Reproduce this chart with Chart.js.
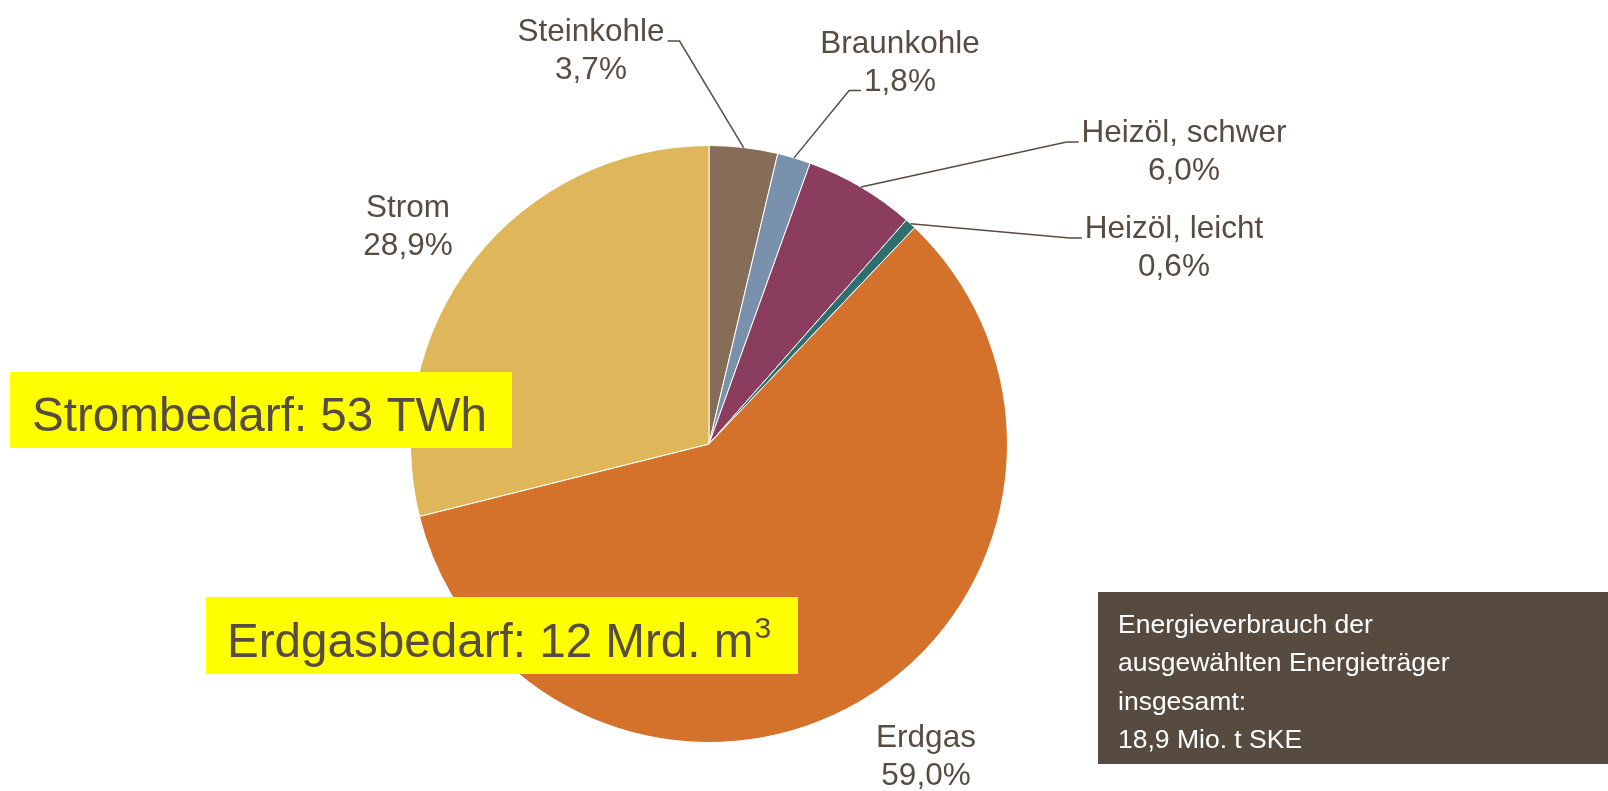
<!DOCTYPE html>
<html><head><meta charset="utf-8">
<script src="https://cdn.jsdelivr.net/npm/chart.js@4/dist/chart.umd.min.js"></script>
<style>html,body{margin:0;padding:0;background:#fff;}#wrap{width:1608px;height:791px;position:relative;}</style>
</head><body><div id="wrap"><canvas id="c" width="1608" height="791"></canvas></div>
<script>
const categories = ["Steinkohle", "Braunkohle", "Heizöl, schwer", "Heizöl, leicht", "Erdgas", "Strom"];
const shares = [3.7, 1.8, 6.0, 0.6, 59.0, 28.9];
const percentLabels = ["3,7%", "1,8%", "6,0%", "0,6%", "59,0%", "28,9%"];
const sliceColors = ["#866D57", "#7A91AD", "#8A3D5C", "#2F6E6E", "#D4712A", "#DFB75A"];
const boxLines = ["Energieverbrauch der", "ausgewählten Energieträger", "insgesamt:", "18,9 Mio. t SKE"];
const stromNote = "Strombedarf: 53 TWh";
const gasNote = "Erdgasbedarf: 12 Mrd. m";
const gasNoteSup = "3";

// label layout (text placement)
const labelPos = [
  {x: 591, y: 41, leader: {line: 0, side: 'right'}},
  {x: 900, y: 53, leader: {line: 1, side: 'left'}},
  {x: 1184, y: 142, leader: {line: 0, side: 'left'}},
  {x: 1174, y: 238, leader: {line: 0, side: 'left'}},
  {x: 926, y: 747, leader: null},
  {x: 408, y: 217, leader: null}
];
const TXT = "#574C42";
const FONT = "'Liberation Sans', Arial, sans-serif";

const overlay = {
  id: 'overlay',
  afterDatasetsDraw(chart) {
    const ctx = chart.ctx;
    const meta = chart.getDatasetMeta(0);
    ctx.save();
    ctx.font = "31.5px " + FONT;
    ctx.textAlign = 'center';
    ctx.textBaseline = 'alphabetic';
    const lh = 37.5;
    meta.data.forEach((arc, i) => {
      const p = labelPos[i];
      const lines = [categories[i], percentLabels[i]];
      ctx.fillStyle = TXT;
      lines.forEach((t, k) => ctx.fillText(t, p.x, p.y + k * lh));
      if (p.leader) {
        const L = p.leader;
        const w = ctx.measureText(lines[L.line]).width;
        const by = p.y + L.line * lh;
        let x0, x1;
        if (L.side === 'right') { x0 = p.x + w / 2 + 3; x1 = x0 + 12; }
        else { x0 = p.x - w / 2 - 3; x1 = x0 - 12; }
        const mid = (arc.startAngle + arc.endAngle) / 2;
        const ax = arc.x + Math.cos(mid) * arc.outerRadius;
        const ay = arc.y + Math.sin(mid) * arc.outerRadius;
        ctx.strokeStyle = TXT;
        ctx.lineWidth = 1.5;
        ctx.beginPath();
        ctx.moveTo(x0, by); ctx.lineTo(x1, by); ctx.lineTo(ax, ay);
        ctx.stroke();
      }
    });
    // yellow notes
    ctx.textAlign = 'left';
    ctx.fillStyle = '#FFFF00';
    ctx.fillRect(10, 372, 502, 76);
    ctx.fillRect(206, 597, 592, 77);
    ctx.fillStyle = TXT;
    ctx.font = "47.6px " + FONT;
    ctx.fillText(stromNote, 32, 431);
    ctx.fillText(gasNote, 227, 657);
    const gw = ctx.measureText(gasNote).width;
    ctx.font = "30px " + FONT;
    ctx.fillText(gasNoteSup, 227 + gw + 1, 638);
    // dark info box
    ctx.fillStyle = '#574B40';
    ctx.fillRect(1098, 592, 510, 172);
    ctx.fillStyle = '#FFFFFF';
    ctx.font = "26.5px " + FONT;
    boxLines.forEach((t, k) => ctx.fillText(t, 1118, 633 + k * 38.3));
    ctx.restore();
  }
};

new Chart(document.getElementById('c'), {
  type: 'pie',
  data: {
    labels: categories,
    datasets: [{
      data: shares,
      backgroundColor: sliceColors,
      borderColor: '#FFFFFF',
      borderWidth: 1
    }]
  },
  options: {
    responsive: false,
    animation: false,
    layout: {padding: {left: 410, top: 145, right: 600, bottom: 48}},
    plugins: {legend: {display: false}, tooltip: {enabled: false}}
  },
  plugins: [overlay]
});
</script></body></html>
